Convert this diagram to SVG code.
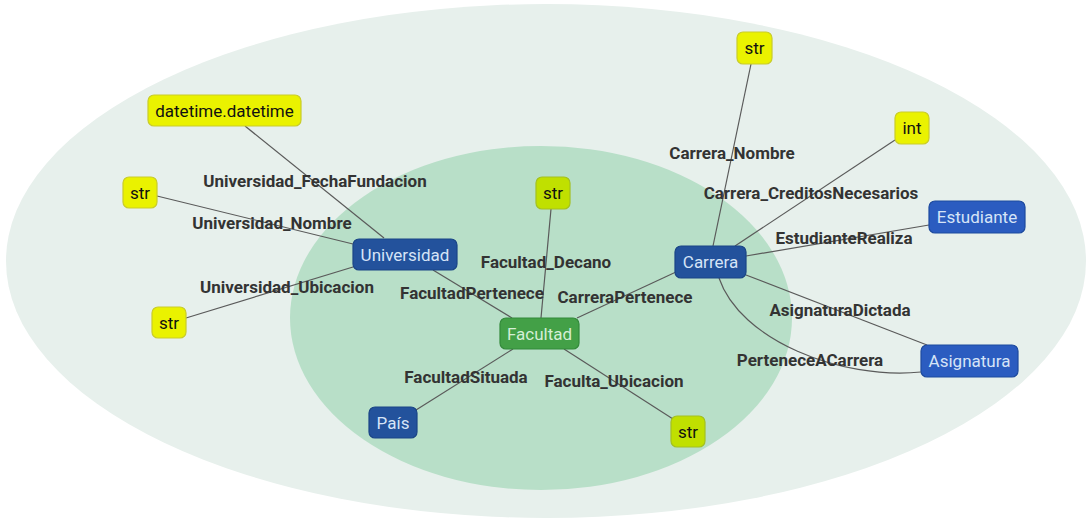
<svg xmlns="http://www.w3.org/2000/svg" width="1086" height="520" viewBox="0 0 1086 520">
  <style>
    .edge { fill: none; stroke: #5a5a5a; stroke-width: 1.2; }
    .elabel { font-family: Roboto, "Liberation Sans", sans-serif; font-size: 17px; font-weight: bold; fill: #333; text-anchor: middle; dominant-baseline: central; }
    .ntext { font-family: Roboto, "Liberation Sans", sans-serif; font-size: 17px; text-anchor: middle; dominant-baseline: central; }
    .blue rect { fill: #2b5cc0; stroke: #1d4a9e; stroke-width: 1.2; }
    .blue.in rect { fill: #23529c; stroke: #1a4586; }
    .blue text { fill: #d6e4f7; }
    .yellow rect { fill: #eaf200; stroke: #c9cc2a; stroke-width: 1.2; }
    .yellow text, .lime text { fill: #111; }
    .lime rect { fill: #c0e000; stroke: #a3c020; stroke-width: 1.2; }
    .green rect { fill: #43a047; stroke: #338a3a; stroke-width: 1.2; }
    .green text { fill: #d5eed6; }
  </style>

  <!-- package regions -->
  <ellipse cx="546" cy="261" rx="540" ry="257" fill="#e7f0ec"/>
  <ellipse cx="541" cy="318" rx="251" ry="172" fill="#b8dfc8"/>

  <!-- connectors -->
  <g id="edges">
    <line class="edge" x1="245" y1="126" x2="384" y2="238"/>
    <line class="edge" x1="157" y1="196" x2="353" y2="244"/>
    <line class="edge" x1="353" y1="267" x2="186" y2="318"/>
    <line class="edge" x1="433" y1="270" x2="512" y2="318"/>
    <line class="edge" x1="551" y1="209" x2="541" y2="318"/>
    <line class="edge" x1="676" y1="272" x2="577" y2="318"/>
    <line class="edge" x1="513" y1="349" x2="416" y2="410"/>
    <line class="edge" x1="564" y1="349" x2="673" y2="419"/>
    <line class="edge" x1="713" y1="246" x2="751" y2="64"/>
    <line class="edge" x1="735" y1="246" x2="895" y2="140"/>
    <line class="edge" x1="746" y1="256" x2="929" y2="225"/>
    <line class="edge" x1="746" y1="275" x2="927" y2="345"/>
    <path class="edge" d="M 921 372 C 840 380, 740 340, 719 278"/>

    <text class="elabel" x="315" y="181">Universidad_FechaFundacion</text>
    <text class="elabel" x="272" y="223">Universidad_Nombre</text>
    <text class="elabel" x="287" y="287">Universidad_Ubicacion</text>
    <text class="elabel" x="472" y="293">FacultadPertenece</text>
    <text class="elabel" x="546" y="262">Facultad_Decano</text>
    <text class="elabel" x="625" y="297">CarreraPertenece</text>
    <text class="elabel" x="466" y="377">FacultadSituada</text>
    <text class="elabel" x="614" y="381">Faculta_Ubicacion</text>
    <text class="elabel" x="732" y="153">Carrera_Nombre</text>
    <text class="elabel" x="811" y="193">Carrera_CreditosNecesarios</text>
    <text class="elabel" x="844" y="238">EstudianteRealiza</text>
    <text class="elabel" x="840" y="310">AsignaturaDictada</text>
    <text class="elabel" x="810" y="360">PerteneceACarrera</text>
  </g>

  <!-- nodes -->
  <g id="datetime" class="yellow"><rect x="148" y="95" width="153" height="31" rx="6"/><text class="ntext" x="224.5" y="110.5">datetime.datetime</text></g>
  <g id="str_univ_nombre" class="yellow"><rect x="123" y="177" width="34" height="31" rx="6"/><text class="ntext" x="140" y="192.5">str</text></g>
  <g id="str_univ_ubicacion" class="yellow"><rect x="152" y="307" width="34" height="31" rx="6"/><text class="ntext" x="169" y="322.5">str</text></g>
  <g id="universidad" class="blue in"><rect x="353" y="239" width="104" height="31" rx="6"/><text class="ntext" x="405" y="254.5">Universidad</text></g>
  <g id="str_decano" class="lime"><rect x="536" y="177" width="34" height="32" rx="6"/><text class="ntext" x="553" y="193">str</text></g>
  <g id="facultad" class="green"><rect x="500" y="318" width="79" height="31" rx="6"/><text class="ntext" x="539.5" y="333.5">Facultad</text></g>
  <g id="pais" class="blue in"><rect x="369" y="407" width="48" height="31" rx="6"/><text class="ntext" x="393" y="422.5">País</text></g>
  <g id="str_fac_ubicacion" class="lime"><rect x="671" y="416" width="34" height="31" rx="6"/><text class="ntext" x="688" y="431.5">str</text></g>
  <g id="carrera" class="blue in"><rect x="675" y="246" width="71" height="32" rx="6"/><text class="ntext" x="710.5" y="262">Carrera</text></g>
  <g id="str_carrera_nombre" class="yellow"><rect x="737" y="32" width="35" height="32" rx="6"/><text class="ntext" x="754.5" y="48">str</text></g>
  <g id="int_creditos" class="yellow"><rect x="895" y="112" width="34" height="32" rx="6"/><text class="ntext" x="912" y="128">int</text></g>
  <g id="estudiante" class="blue"><rect x="929" y="201" width="96" height="32" rx="6"/><text class="ntext" x="977" y="217">Estudiante</text></g>
  <g id="asignatura" class="blue"><rect x="921" y="345" width="97" height="32" rx="6"/><text class="ntext" x="969.5" y="361">Asignatura</text></g>
</svg>
